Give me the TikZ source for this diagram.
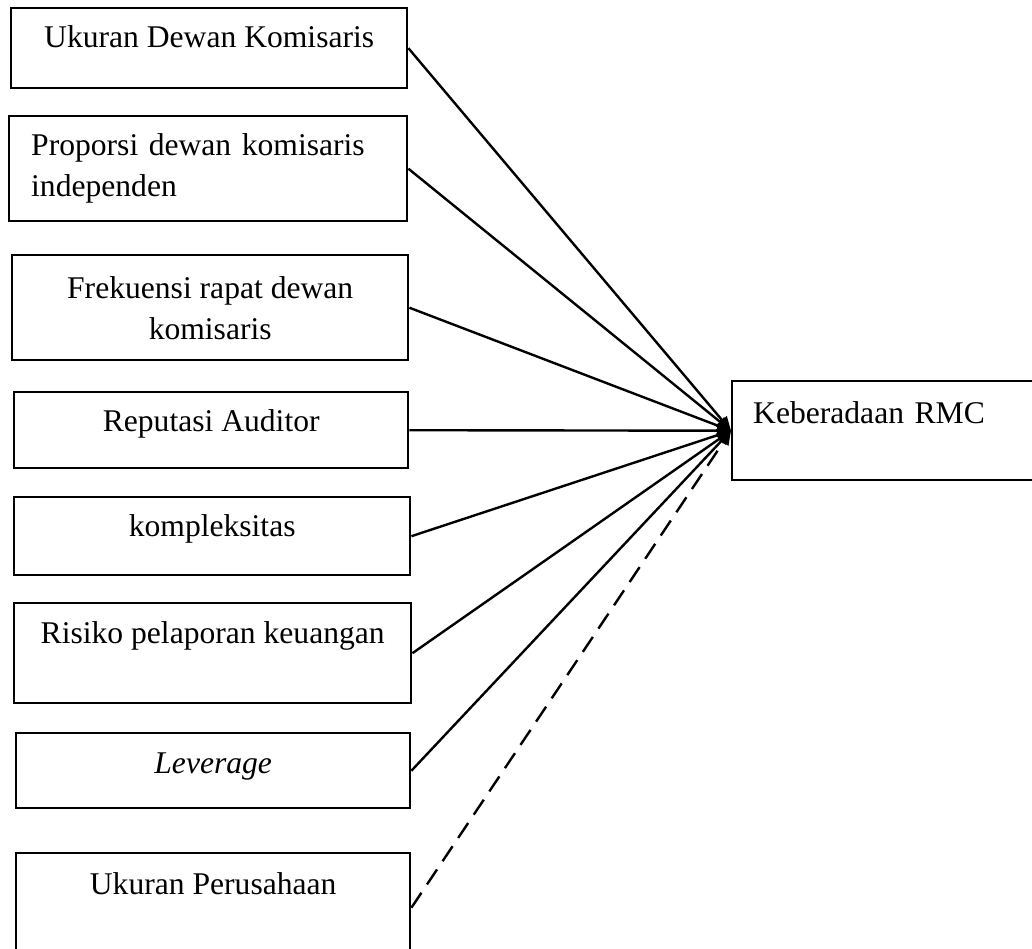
\documentclass[tikz,border=0pt]{standalone}
\usepackage{fontspec}
\setmainfont{Liberation Serif}
\usetikzlibrary{arrows.meta}

\begin{document}
\begin{tikzpicture}[x=0.5pt,y=-0.5pt,
            varbox/.style={rectangle,draw,line width=1.2pt,anchor=north west,inner sep=0pt,align=center,font=\fontsize{15.8}{20.5}\selectfont},
            arrow/.style={-{Triangle[length=7pt,width=6pt]},line width=1.2pt}]
            \useasboundingbox (0,0) rectangle (1032,948);
            \clip (0,0) rectangle (1032,948);
            \node[varbox,minimum width=198pt,text height=19.5pt,text depth=20.5pt] (b1) at (10,7) {Ukuran Dewan Komisaris};
            \node[varbox,minimum height=52.5pt,inner xsep=11pt,text width=177pt,align=left] (b2) at (8,115) {Proporsi dewan komisaris\\independen};
            \node[varbox,minimum width=198pt,minimum height=52.5pt] (b3) at (11,254) {Frekuensi rapat dewan\\komisaris};
            \node[varbox,minimum width=197pt,text height=19.5pt,text depth=18.5pt] (b4) at (13,391) {Reputasi Auditor};
            \node[varbox,minimum width=198pt,text height=19.5pt,text depth=19.5pt] (b5) at (13,496) {kompleksitas};
            \node[varbox,minimum width=198.5pt,text height=20pt,text depth=30pt] (b6) at (13,602) {Risiko pelaporan keuangan};
            \node[varbox,minimum width=197pt,text height=20pt,text depth=17.5pt] (b7) at (15,732) {\textit{Leverage}};
            \node[varbox,minimum width=197pt,text height=20.5pt,text depth=34pt] (b8) at (15,852) {Ukuran Perusahaan};
            \node[varbox,inner xsep=10.5pt,text width=133.5pt,align=left,text height=21pt,text depth=28.5pt] (rmc) at (731,380) {Keberadaan RMC};
            \draw[arrow] (b1.east)--(rmc.west);
            \draw[arrow] (b2.east)--(rmc.west);
            \draw[arrow] (b3.east)--(rmc.west);
            \draw[arrow] (b4.east)--(rmc.west);
            \draw[arrow] (b5.east)--(rmc.west);
            \draw[arrow] (b6.east)--(rmc.west);
            \draw[arrow] (b7.east)--(rmc.west);
            \draw[arrow,dash pattern=on 9pt off 5pt] (b8.east)--(rmc.west);
        \end{tikzpicture}
\end{document}
